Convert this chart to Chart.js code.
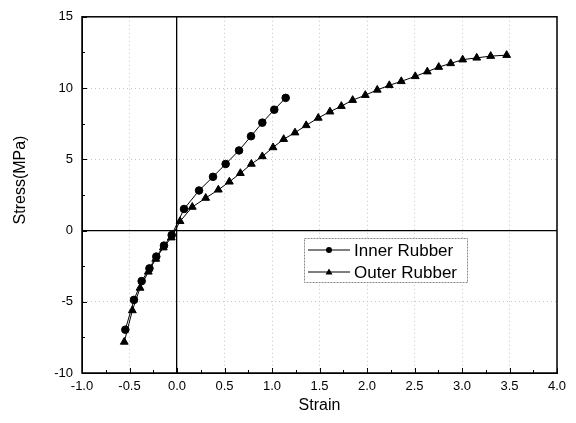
<!DOCTYPE html>
<html>
<head>
<meta charset="utf-8">
<script src="https://cdn.jsdelivr.net/npm/chart.js@4.4.1/dist/chart.umd.min.js"></script>
<style>
  html, body { margin: 0; padding: 0; background: #fff; }
</style>
</head>
<body>
<canvas id="c" width="576" height="423"></canvas>
<script>
// Inner Rubber (circles)
const innerStrain = [-0.544, -0.453, -0.372, -0.290, -0.218, -0.137, -0.056, 0.074, 0.232, 0.379, 0.512, 0.653, 0.779, 0.898, 1.024, 1.144];
const innerStress = [-6.96, -4.87, -3.55, -2.66, -1.83, -1.06, -0.32, 1.51, 2.81, 3.77, 4.67, 5.62, 6.62, 7.57, 8.48, 9.31];

// Outer Rubber (triangles)
const outerStrain = [-0.555, -0.470, -0.389, -0.302, -0.224, -0.144, -0.060, 0.032, 0.161, 0.302, 0.435, 0.551, 0.667, 0.783, 0.898, 1.011, 1.123, 1.242, 1.360, 1.487, 1.610, 1.730, 1.849, 1.982, 2.108, 2.235, 2.361, 2.508, 2.635, 2.755, 2.881, 3.007, 3.155, 3.302, 3.470];
const outerStress = [-7.82, -5.61, -4.03, -2.90, -2.00, -1.20, -0.50, 0.65, 1.65, 2.28, 2.86, 3.42, 4.02, 4.67, 5.20, 5.83, 6.41, 6.87, 7.38, 7.90, 8.34, 8.73, 9.15, 9.50, 9.87, 10.19, 10.47, 10.82, 11.15, 11.47, 11.73, 11.99, 12.12, 12.24, 12.31];

const seriesLabels = ['Inner Rubber', 'Outer Rubber'];
const xRange = [-1.0, 4.0];
const yRange = [-10, 15];

const toPoints = (xs, ys) => xs.map((x, i) => ({ x: x, y: ys[i] }));

Chart.defaults.font.family = '"Liberation Sans", Arial, sans-serif';
Chart.defaults.color = '#000';

// frame, inward tick marks, y title and legend box
const decor = {
  id: 'decor',
  afterDraw(chart) {
    const { ctx, chartArea: a, scales } = chart;
    const xs = scales.x, ys = scales.y;
    ctx.save();

    // plot frame
    ctx.strokeStyle = '#000';
    ctx.lineWidth = 1.5;
    ctx.setLineDash([]);
    ctx.strokeRect(a.left, a.top, a.right - a.left, a.bottom - a.top);

    // inward ticks (major + minor)
    ctx.lineWidth = 1;
    for (let k = 0; k <= 20; k++) {
      const px = Math.round(xs.getPixelForValue(xRange[0] + k * 0.25)) + 0.5;
      const len = k % 2 === 0 ? 5 : 3;
      ctx.beginPath(); ctx.moveTo(px, a.bottom); ctx.lineTo(px, a.bottom - len); ctx.stroke();
    }
    for (let k = 0; k <= 10; k++) {
      const py = Math.round(ys.getPixelForValue(yRange[0] + k * 2.5)) + 0.5;
      const len = k % 2 === 0 ? 5 : 3;
      ctx.beginPath(); ctx.moveTo(a.left, py); ctx.lineTo(a.left + len, py); ctx.stroke();
    }

    // y axis title
    ctx.font = '16px "Liberation Sans", Arial, sans-serif';
    ctx.fillStyle = '#000';
    ctx.textAlign = 'center';
    ctx.textBaseline = 'middle';
    ctx.translate(21, 180);
    ctx.rotate(-Math.PI / 2);
    ctx.fillText('Stress(MPa)', 0, 0);
    ctx.restore();

    // legend
    ctx.save();
    const lx = 304, ly = 238, lw = 163, lh = 44;
    ctx.fillStyle = '#fff';
    ctx.fillRect(lx, ly, lw, lh);
    ctx.strokeStyle = '#888';
    ctx.lineWidth = 1;
    ctx.setLineDash([2, 1]);
    ctx.strokeRect(lx + 0.5, ly + 0.5, lw, lh);
    ctx.setLineDash([]);
    ctx.font = '17px "Liberation Sans", Arial, sans-serif';
    ctx.textAlign = 'left';
    ctx.textBaseline = 'middle';
    chart.data.datasets.forEach((ds, i) => {
      const y = ly + 12 + i * 22;
      ctx.strokeStyle = '#000';
      ctx.fillStyle = '#000';
      ctx.beginPath(); ctx.moveTo(lx + 4, y); ctx.lineTo(lx + 46, y); ctx.stroke();
      const cx = lx + 25;
      ctx.beginPath();
      if (ds.pointStyle === 'triangle') {
        ctx.moveTo(cx, y - 3.5); ctx.lineTo(cx + 3.5, y + 2.5); ctx.lineTo(cx - 3.5, y + 2.5); ctx.closePath();
      } else {
        ctx.arc(cx, y, 3, 0, Math.PI * 2);
      }
      ctx.fill();
      ctx.fillText(ds.label, lx + 50, y + 1);
    });
    ctx.restore();
  }
};

new Chart(document.getElementById('c'), {
  type: 'scatter',
  data: {
    datasets: [
      {
        label: seriesLabels[0],
        data: toPoints(innerStrain, innerStress),
        showLine: true,
        borderColor: '#000',
        backgroundColor: '#000',
        borderWidth: 1,
        pointStyle: 'circle',
        pointRadius: 3.8
      },
      {
        label: seriesLabels[1],
        data: toPoints(outerStrain, outerStress),
        showLine: true,
        borderColor: '#000',
        backgroundColor: '#000',
        borderWidth: 1,
        pointStyle: 'triangle',
        pointRadius: 4.5
      }
    ]
  },
  options: {
    responsive: false,
    animation: false,
    layout: { padding: { top: 14, right: 19, left: 0, bottom: 0 } },
    plugins: { legend: { display: false }, tooltip: { enabled: false } },
    scales: {
      x: {
        type: 'linear',
        min: xRange[0],
        max: xRange[1],
        afterFit: s => { s.height = 50; },
        ticks: { stepSize: 0.5, padding: 6, font: { size: 13 }, callback: v => v.toFixed(1) },
        grid: {
          drawTicks: false,
          color: c => (c.tick && c.tick.value === 0) ? '#000' : '#c4c4c4',
          lineWidth: c => (c.tick && c.tick.value === 0) ? 1.3 : 1
        },
        border: { color: '#000', dash: c => (c.tick && c.tick.value !== 0) ? [1, 3] : [] },
        title: { display: true, text: 'Strain', font: { size: 16 }, padding: { top: 0, bottom: 8 } }
      },
      y: {
        type: 'linear',
        min: yRange[0],
        max: yRange[1],
        afterFit: s => { s.width = 82; },
        ticks: { stepSize: 5, padding: 9, font: { size: 13 } },
        grid: {
          drawTicks: false,
          color: c => (c.tick && c.tick.value === 0) ? '#000' : '#c4c4c4',
          lineWidth: c => (c.tick && c.tick.value === 0) ? 1.3 : 1
        },
        border: { color: '#000', dash: c => (c.tick && c.tick.value !== 0) ? [1, 3] : [] }
      }
    }
  },
  plugins: [decor]
});
</script>
</body>
</html>
